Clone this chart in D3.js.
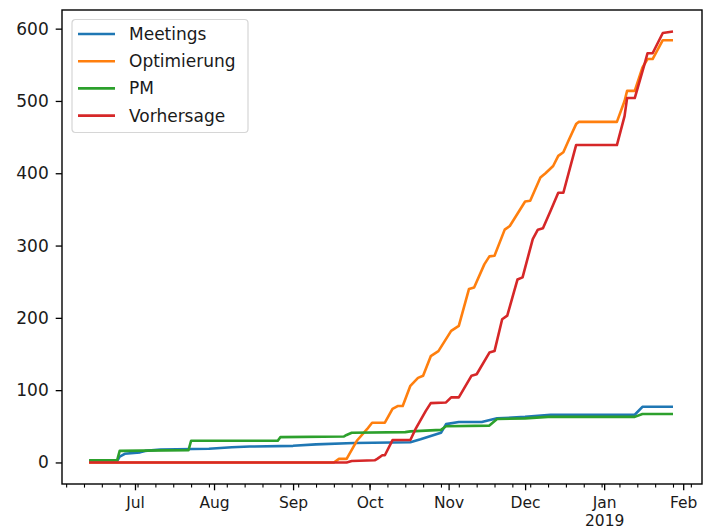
<!DOCTYPE html>
<html>
<head>
<meta charset="utf-8">
<script src="https://cdn.jsdelivr.net/npm/d3@7"></script>
<style>
  body { margin: 0; background: #fff; }
  text { font-family: "DejaVu Sans", sans-serif; fill: #1a1a1a; }
</style>
</head>
<body>
<div id="chart"></div>
<script>
// cumulative counts per category
const seriesNames = ["Meetings", "Optimierung", "PM", "Vorhersage"];
const seriesColors = ["#1f77b4", "#ff7f0e", "#2ca02c", "#d62728"];

const meetings = [
  ["2018-06-13", 2], ["2018-06-24", 2], ["2018-06-25", 8], ["2018-06-27", 12],
  ["2018-07-03", 14], ["2018-07-05", 16], ["2018-07-11", 18], ["2018-07-30", 19],
  ["2018-08-08", 21], ["2018-08-15", 22], ["2018-09-01", 23], ["2018-09-10", 25],
  ["2018-09-25", 27], ["2018-10-17", 28], ["2018-10-21", 32], ["2018-10-29", 41],
  ["2018-10-31", 53], ["2018-11-05", 56], ["2018-11-14", 56], ["2018-11-20", 61],
  ["2018-12-01", 63], ["2018-12-11", 66], ["2019-01-13", 66], ["2019-01-16", 77],
  ["2019-01-28", 77]
];

const optimierung = [
  ["2018-06-13", 0], ["2018-09-17", 0], ["2018-09-19", 5], ["2018-09-22", 5],
  ["2018-09-26", 30], ["2018-09-30", 46], ["2018-10-02", 55], ["2018-10-07", 55],
  ["2018-10-10", 74], ["2018-10-12", 78], ["2018-10-14", 78], ["2018-10-17", 106],
  ["2018-10-20", 117], ["2018-10-22", 120], ["2018-10-25", 147], ["2018-10-28", 154],
  ["2018-11-02", 182], ["2018-11-05", 189], ["2018-11-09", 240], ["2018-11-11", 242],
  ["2018-11-15", 274], ["2018-11-17", 285], ["2018-11-19", 286], ["2018-11-23", 322],
  ["2018-11-25", 327], ["2018-12-01", 361], ["2018-12-03", 362], ["2018-12-07", 394],
  ["2018-12-09", 400], ["2018-12-12", 410], ["2018-12-14", 424], ["2018-12-16", 429],
  ["2018-12-18", 445], ["2018-12-21", 468], ["2018-12-22", 471], ["2019-01-06", 471],
  ["2019-01-09", 500], ["2019-01-10", 514], ["2019-01-13", 514], ["2019-01-16", 546],
  ["2019-01-18", 558], ["2019-01-20", 558], ["2019-01-24", 584], ["2019-01-28", 584]
];

const pm = [
  ["2018-06-13", 3], ["2018-06-24", 3], ["2018-06-25", 16], ["2018-07-22", 17],
  ["2018-07-23", 30], ["2018-08-26", 30], ["2018-08-27", 35], ["2018-09-21", 36],
  ["2018-09-22", 38], ["2018-09-24", 41], ["2018-10-15", 42], ["2018-10-17", 43],
  ["2018-10-29", 45], ["2018-10-31", 50], ["2018-11-17", 51], ["2018-11-20", 60],
  ["2018-12-01", 61], ["2018-12-10", 63], ["2019-01-13", 63], ["2019-01-16", 67],
  ["2019-01-28", 67]
];

const vorhersage = [
  ["2018-06-13", 0], ["2018-09-22", 0], ["2018-09-24", 2], ["2018-10-03", 3],
  ["2018-10-04", 5], ["2018-10-06", 10], ["2018-10-07", 10], ["2018-10-10", 31],
  ["2018-10-17", 31], ["2018-10-19", 46], ["2018-10-23", 71], ["2018-10-25", 82],
  ["2018-10-31", 83], ["2018-11-02", 90], ["2018-11-05", 90], ["2018-11-10", 120],
  ["2018-11-12", 122], ["2018-11-17", 152], ["2018-11-19", 154], ["2018-11-22", 198],
  ["2018-11-24", 203], ["2018-11-26", 228], ["2018-11-28", 253], ["2018-11-30", 256],
  ["2018-12-04", 309], ["2018-12-06", 322], ["2018-12-08", 324], ["2018-12-11", 348],
  ["2018-12-14", 373], ["2018-12-16", 373], ["2018-12-21", 439], ["2019-01-06", 439],
  ["2019-01-09", 479], ["2019-01-10", 504], ["2019-01-13", 504], ["2019-01-17", 553],
  ["2019-01-18", 566], ["2019-01-20", 566], ["2019-01-24", 594], ["2019-01-28", 596]
];

const yTicks = [0, 100, 200, 300, 400, 500, 600];
const monthTicks = ["2018-07-01", "2018-08-01", "2018-09-01", "2018-10-01",
                    "2018-11-01", "2018-12-01", "2019-01-01", "2019-02-01"];
const xLimits = ["2018-06-02 09", "2019-02-08 09"];

let w = 713;
let h = 531;
let padLeft = 62, padRight = 702, padTop = 10, padBottom = 484;

const parse = d3.timeParse("%Y-%m-%d");
const parseLim = d3.timeParse("%Y-%m-%d %H");
const allSeries = [meetings, optimierung, pm, vorhersage];

const xScale = d3.scaleTime()
                 .domain(xLimits.map(parseLim))
                 .range([padLeft, padRight]);

const yMax = d3.max(allSeries, s => d3.max(s, d => d[1]));
const margin = yMax * 0.05;
const yScale = d3.scaleLinear()
                 .domain([-margin, yMax + margin])
                 .range([padBottom, padTop]);

const svg = d3.select("#chart")
              .append("svg")
              .attr("width", w)
              .attr("height", h);

// lines
const line = d3.line()
               .x(d => xScale(parse(d[0])))
               .y(d => yScale(d[1]));

allSeries.forEach((s, i) => {
  svg.append("path")
     .datum(s)
     .attr("fill", "none")
     .attr("stroke", seriesColors[i])
     .attr("stroke-width", 2.6)
     .attr("stroke-linejoin", "round")
     .attr("d", line);
});

// minor weekly ticks
const minorAxis = d3.axisBottom(xScale)
                    .tickValues(d3.timeMonday.range(xScale.domain()[0], xScale.domain()[1]))
                    .tickSize(3.6)
                    .tickFormat("");
svg.append("g")
   .attr("transform", "translate(0," + padBottom + ")")
   .call(minorAxis)
   .call(g => g.select(".domain").remove())
   .selectAll("line").attr("stroke", "#000").attr("stroke-width", 1.1);

const fmt = d3.timeFormat("%b");
const xAxis = d3.axisBottom(xScale)
                .tickValues(monthTicks.map(parse))
                .tickSize(6.3)
                .tickPadding(6.5)
                .tickFormat(fmt);
const gx = svg.append("g")
   .attr("id", "x-axis")
   .attr("transform", "translate(0," + padBottom + ")")
   .call(xAxis);
gx.select(".domain").remove();
gx.selectAll("line").attr("stroke", "#000").attr("stroke-width", 1.3);
gx.selectAll("text")
  .attr("font-size", 15.5)
  .attr("font-family", "DejaVu Sans")
  .attr("fill", "#1a1a1a")
  .each(function(d) {
    if (d.getMonth() === 0) {
      d3.select(this).append("tspan")
        .attr("x", 0)
        .attr("dy", "1.2em")
        .text(d.getFullYear());
    }
  });

const yAxis = d3.axisLeft(yScale)
                .tickValues(yTicks)
                .tickSize(6.3)
                .tickPadding(7);
const gy = svg.append("g")
   .attr("id", "y-axis")
   .attr("transform", "translate(" + padLeft + ",0)")
   .call(yAxis);
gy.select(".domain").remove();
gy.selectAll("line").attr("stroke", "#000").attr("stroke-width", 1.3);
gy.selectAll("text")
  .attr("font-size", 17)
  .attr("font-family", "DejaVu Sans")
  .attr("fill", "#1a1a1a");

// frame
svg.append("rect")
   .attr("x", padLeft)
   .attr("y", padTop)
   .attr("width", padRight - padLeft)
   .attr("height", padBottom - padTop)
   .attr("fill", "none")
   .attr("stroke", "#000")
   .attr("stroke-width", 1.4);

// legend
const legend = svg.append("g").attr("transform", "translate(72,19.5)");
legend.append("rect")
      .attr("width", 176)
      .attr("height", 113)
      .attr("rx", 3.5)
      .attr("fill", "#fff")
      .attr("fill-opacity", 0.8)
      .attr("stroke", "#d6d6d6")
      .attr("stroke-width", 1.2);

seriesNames.forEach((name, i) => {
  let yy = 14.5 + i * 27.2;
  legend.append("line")
        .attr("x1", 6).attr("x2", 43)
        .attr("y1", yy).attr("y2", yy)
        .attr("stroke", seriesColors[i])
        .attr("stroke-width", 2.6);
  legend.append("text")
        .attr("x", 57)
        .attr("y", yy)
        .attr("dy", "0.35em")
        .attr("font-size", 17)
        .text(name);
});
</script>
</body>
</html>
